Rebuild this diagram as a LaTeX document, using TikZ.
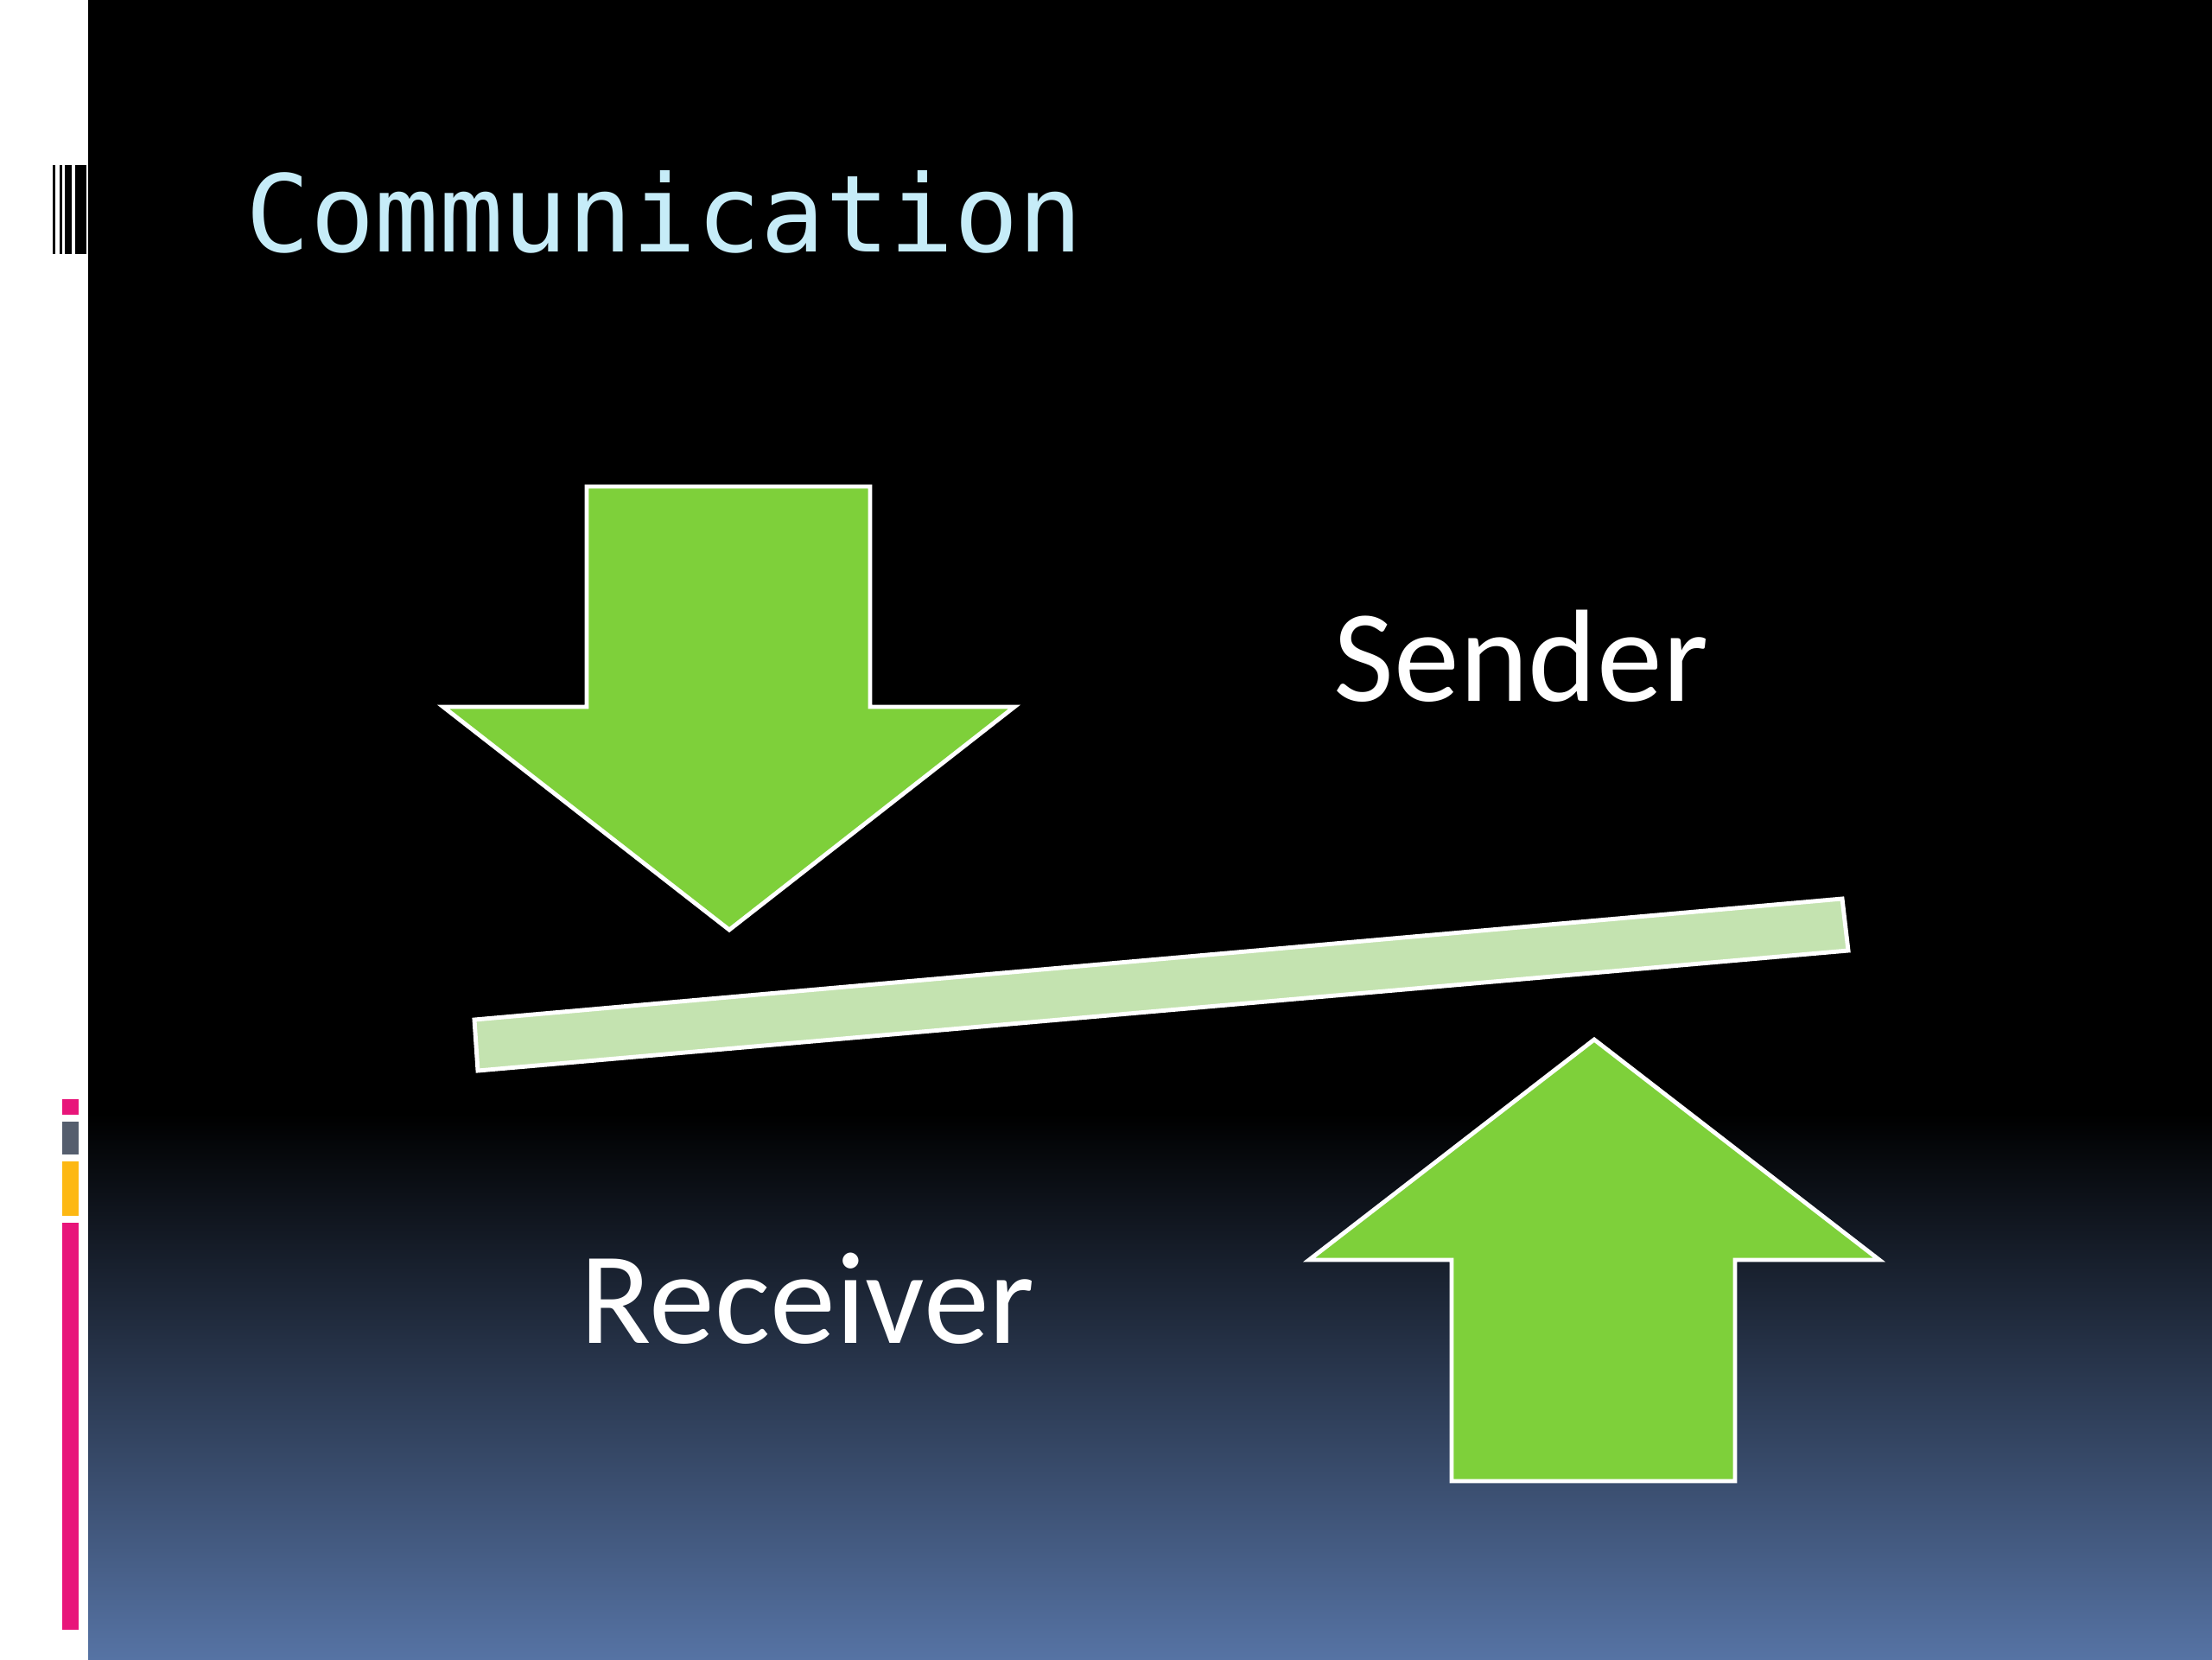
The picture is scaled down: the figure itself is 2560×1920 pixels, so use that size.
\documentclass[tikz,border=0pt]{standalone}
\usepackage{fontspec}
\setmainfont{Carlito}
\newfontfamily\titlefont{DejaVu Sans Mono}
\usetikzlibrary{positioning}
\definecolor{arrowgreen}{HTML}{7ED03A}
\definecolor{barlight}{HTML}{C4E3B0}
\definecolor{titleblue}{HTML}{C6ECF8}
\definecolor{slateblue}{HTML}{5673A4}
\definecolor{accpink}{HTML}{E8157A}
\definecolor{accgray}{HTML}{555E6E}
\definecolor{accorange}{HTML}{FDB813}
\tikzset{
  bigarrow/.style={fill=arrowgreen, draw=white, line width=1.4pt, line join=miter},
  lens/.style={fill=barlight, draw=white, line width=1.4pt},
  word/.style={white, anchor=base west, inner sep=0pt, font=\fontsize{43.2}{52}\selectfont}
}

\begin{document}
\begin{tikzpicture}[x=0.01cm,y=-0.01cm]
            \useasboundingbox (0,0) rectangle (2560,1920);
            % background
            \fill[white] (0,0) rectangle (102,1920);
            \fill[black] (102,0) rectangle (2560,1290);
            \shade[top color=black, bottom color=slateblue] (102,1289) rectangle (2560,1920);
            \fill[black] (61,191) rectangle (64,294);
            \fill[black] (69,191) rectangle (72,294);
            \fill[black] (75,191) rectangle (83,294);
            \fill[black] (87,191) rectangle (100,294);
            \fill[accpink] (72,1272) rectangle (91,1290);
            \fill[accgray] (72,1298) rectangle (91,1336);
            \fill[accorange] (72,1344) rectangle (91,1407);
            \fill[accpink] (72,1415) rectangle (91,1886);

            \node[titleblue, anchor=base west, inner sep=0pt, font=\titlefont\fontsize{35.2}{42}\selectfont](title) at (284,291) {Communication};

            % arrows and the bar
            \draw[bigarrow] (679,563) -- (1007,563) -- (1007,818) -- (1174,818) -- (844,1076) -- (513,818) -- (679,818) -- cycle;
            \draw[bigarrow] (1845,1203) -- (2175,1458) -- (2008,1458) -- (2008,1714) -- (1680,1714) -- (1680,1458) -- (1515,1458) -- cycle;
            \draw[lens] (549,1180) -- (2132,1040) -- (2139,1100) -- (553,1239) -- cycle;

            \node[word](sender) at (1543,811) {Sender};
            \node[word](receiver) at (671,1554) {Receiver};
          \end{tikzpicture}
\end{document}
